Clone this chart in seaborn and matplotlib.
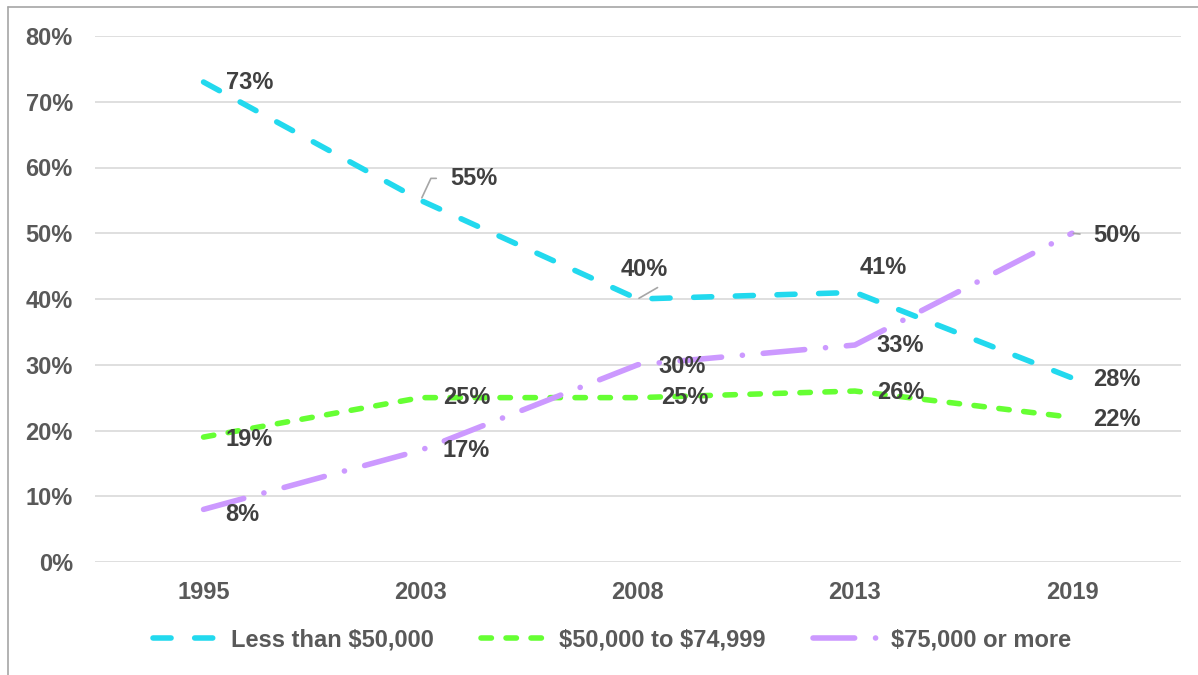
import matplotlib
matplotlib.use("Agg")
import matplotlib.pyplot as plt
from matplotlib.lines import Line2D
import seaborn as sns
import pandas as pd

years = ["1995", "2003", "2008", "2013", "2019"]
series_names = ["Less than $50,000", "$50,000 to $74,999", "$75,000 or more"]
less_50k = [0.73, 0.55, 0.40, 0.41, 0.28]
mid_50_75k = [0.19, 0.25, 0.25, 0.26, 0.22]
over_75k = [0.08, 0.17, 0.30, 0.33, 0.50]
y_ticks = [0.0, 0.1, 0.2, 0.3, 0.4, 0.5, 0.6, 0.7, 0.8]

values = [less_50k, mid_50_75k, over_75k]
df = pd.DataFrame({
    "year": years * 3,
    "series": [s for s in series_names for _ in years],
    "value": less_50k + mid_50_75k + over_75k,
})

sns.set_theme(style="white")
plt.rcParams["font.family"] = ["Liberation Sans", "DejaVu Sans"]
plt.rcParams["font.weight"] = "bold"
plt.rcParams["lines.scale_dashes"] = False
plt.rcParams["text.parse_math"] = False

colors = {"Less than $50,000": "#22D9EE",
          "$50,000 to $74,999": "#66FF33",
          "$75,000 or more": "#CC99FF"}
dashes = {"Less than $50,000": (13, 17),
          "$50,000 to $74,999": (7.5, 10.5),
          "$75,000 or more": (30, 15, 0.1, 15)}

FS = 17

fig = plt.figure(figsize=(11.98, 6.75), dpi=100)
ax = fig.add_axes([95 / 1198, 1 - 562 / 675, (1180.5 - 95) / 1198, (562 - 36) / 675])

sns.lineplot(data=df, x="year", y="value", hue="series", style="series",
             palette=colors, dashes=dashes, linewidth=4, sort=False,
             legend=False, ax=ax)
for ln in ax.lines:
    ln.set_solid_capstyle("round")
    ln.set_dash_capstyle("round")

ax.set_xlim(-0.5, 4.5)
ax.set_ylim(0, 0.8)
ax.set_yticks(y_ticks)
ax.set_yticklabels([f"{int(round(t * 100))}%" for t in y_ticks])
ax.set_xlabel("")
ax.set_ylabel("")
ax.grid(axis="y", color="#D9D9D9", linewidth=1.2)
ax.set_axisbelow(True)
for sp in ax.spines.values():
    sp.set_visible(False)
ax.tick_params(axis="both", length=0, labelsize=FS, labelcolor="#595959")
ax.tick_params(axis="y", pad=16)
ax.tick_params(axis="x", pad=14)
for lab in ax.get_xticklabels() + ax.get_yticklabels():
    lab.set_fontweight("bold")

# data labels (offsets in pixels)
offsets = [
    [(22, 0), (30, 22), (-17, 29), (5, 25), (21, -2)],
    [(22, -2), (22, 0), (23, 0), (22, -1), (21, -2)],
    [(22, -5), (22, 0), (21, -2), (22, 0), (21, -2)],
]
gray = "#A6A6A6"
leaders = {(0, 1): dict(arrowstyle="-", color=gray, lw=1.2, relpos=(0, 0.5),
                        connectionstyle="angle,angleA=0,angleB=65,rad=0",
                        shrinkA=8, shrinkB=2),
           (0, 2): dict(arrowstyle="-", color=gray, lw=1.2, relpos=(1, 0),
                        shrinkA=4, shrinkB=1),
           (2, 4): dict(arrowstyle="-", color=gray, lw=1.2, relpos=(0, 0.5),
                        shrinkA=7, shrinkB=1)}
for si, vals in enumerate(values):
    for xi, v in enumerate(vals):
        ax.annotate(f"{int(round(v * 100))}%", xy=(xi, v),
                    xytext=offsets[si][xi], textcoords="offset pixels",
                    ha="left", va="center", fontsize=FS, fontweight="bold",
                    color="#404040", arrowprops=leaders.get((si, xi)))

# legend
handles = []
for ln, name in zip(ax.lines, series_names):
    h = Line2D([], [], color=ln.get_color(), linewidth=4,
               dashes=dashes[name], dash_capstyle="round")
    handles.append(h)
fig.legend(handles, series_names, loc="center",
           bbox_to_anchor=(612 / 1198, 1 - 640 / 675), ncol=3, frameon=False,
           prop={"size": FS, "weight": "bold"}, labelcolor="#595959",
           handlelength=2.8, handletextpad=0.5, columnspacing=2.0)

# chart border (left and top visible)
fig.add_artist(Line2D([8 / 1198, 8 / 1198], [0, 1 - 7 / 675],
                      transform=fig.transFigure, color=gray, lw=1.2))
fig.add_artist(Line2D([8 / 1198, 1], [1 - 7 / 675, 1 - 7 / 675],
                      transform=fig.transFigure, color=gray, lw=1.2))

fig.savefig("out.png", dpi=100, facecolor="white")
